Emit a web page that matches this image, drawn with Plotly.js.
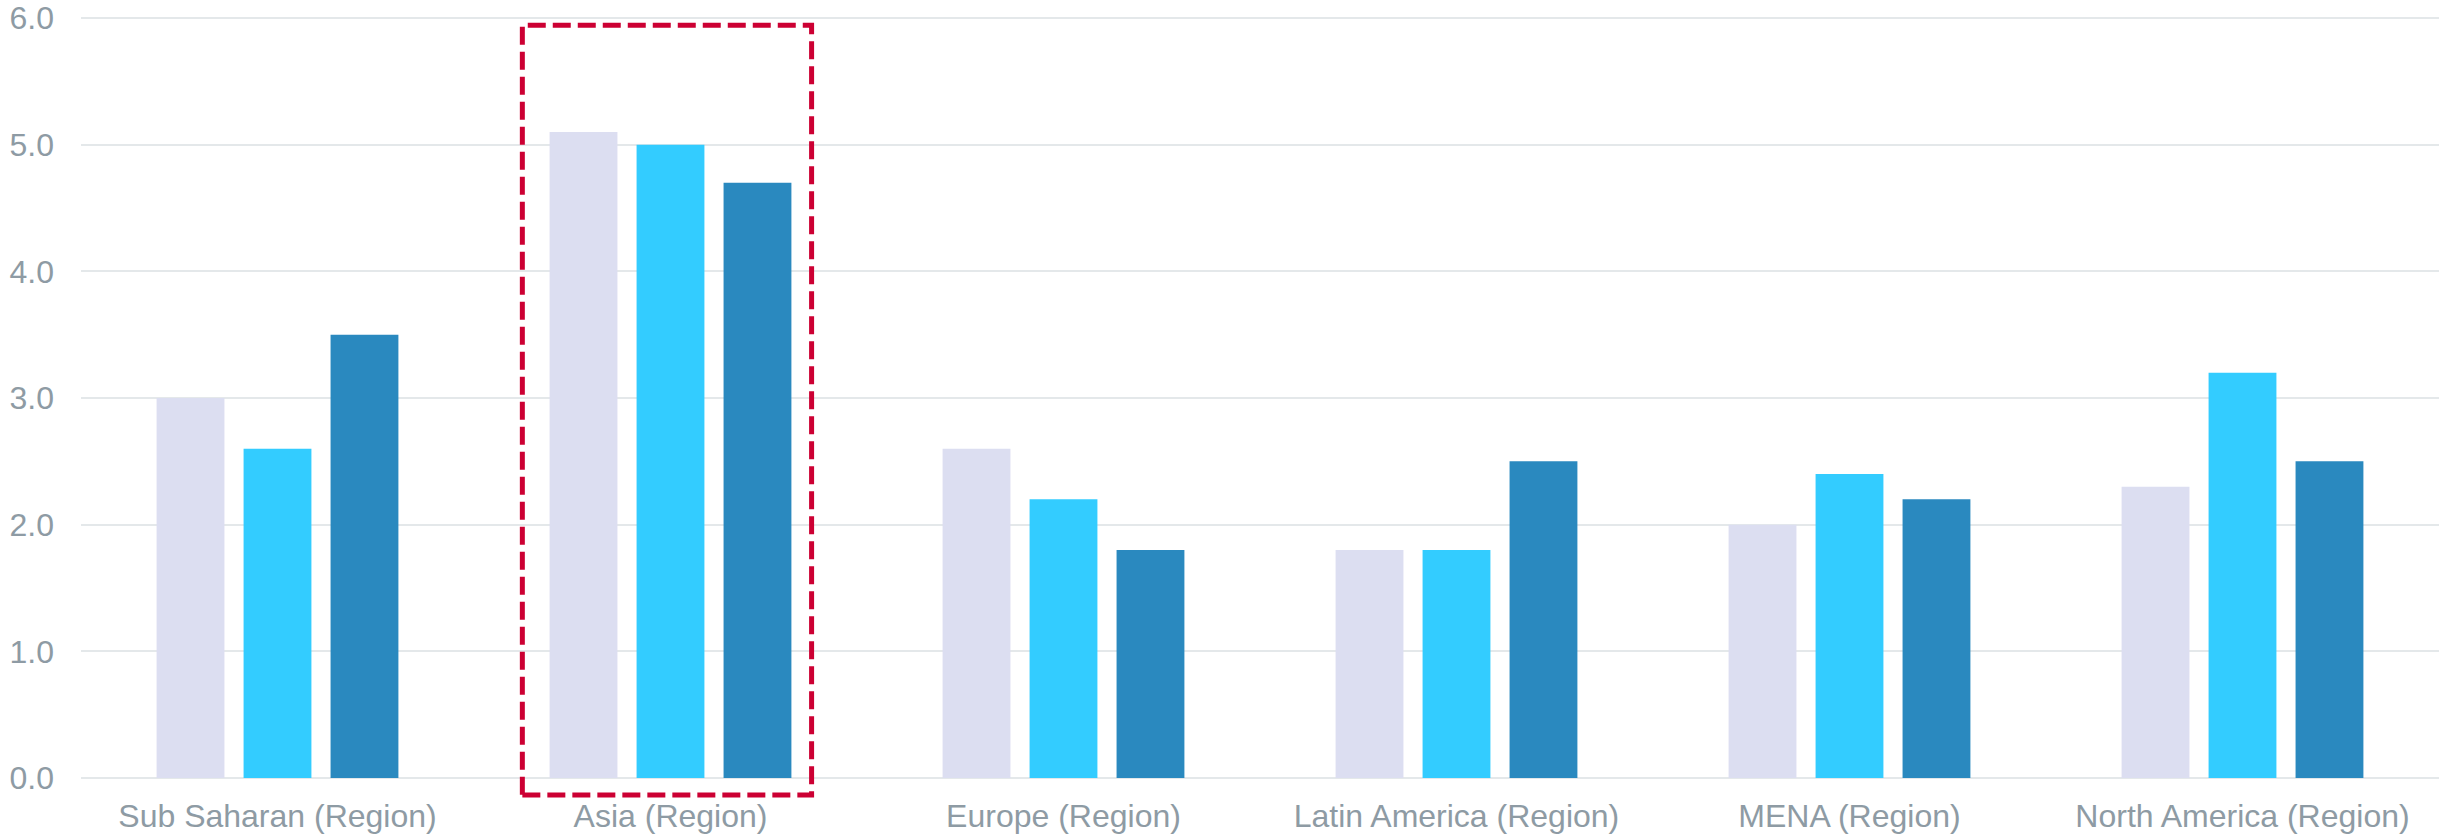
<!DOCTYPE html>
<html>
<head>
<meta charset="utf-8">
<script src="https://cdn.plot.ly/plotly-3.0.1.min.js"></script>
<style>html,body{margin:0;padding:0;background:#fff;}#chart{width:2441px;height:835px;}</style>
</head>
<body>
<div id="chart"></div>
<script>
const categories = ["Sub Saharan (Region)", "Asia (Region)", "Europe (Region)", "Latin America (Region)", "MENA (Region)", "North America (Region)"];
const series1 = [3.0, 5.1, 2.6, 1.8, 2.0, 2.3];
const series2 = [2.6, 5.0, 2.2, 1.8, 2.4, 3.2];
const series3 = [3.5, 4.7, 1.8, 2.5, 2.2, 2.5];
const yTickVals = [0, 1, 2, 3, 4, 5, 6];
const yTickText = ["0.0", "1.0", "2.0", "3.0", "4.0", "5.0", "6.0"];
const highlightCategory = "Asia (Region)";

const colors = ["#dcdef1", "#33ccff", "#2a89bf"];
const allSeries = [series1, series2, series3];
const traces = allSeries.map((vals, i) => ({
  type: "bar",
  x: categories,
  y: vals,
  marker: {color: colors[i], line: {width: 0}},
  hoverinfo: "skip",
  showlegend: false
}));

const hi = categories.indexOf(highlightCategory);

const layout = {
  width: 2441,
  height: 835,
  margin: {l: 81, r: 2, t: 16, b: 57},
  paper_bgcolor: "#ffffff",
  plot_bgcolor: "#ffffff",
  barmode: "group",
  bargap: 0.336,
  bargroupgap: 0.22,
  font: {family: "Liberation Sans, Arial, sans-serif", size: 32, color: "#8e9ba4"},
  xaxis: {
    type: "category",
    showgrid: false,
    zeroline: false,
    showline: false,
    ticks: "",
    tickfont: {size: 32, color: "#8e9ba4"},
    ticklabelstandoff: 16
  },
  yaxis: {
    range: [0, 6.016],
    tickvals: yTickVals,
    ticktext: yTickText,
    showgrid: true,
    gridcolor: "#e4e8ea",
    gridwidth: 2,
    zeroline: true,
    zerolinecolor: "#e4e8ea",
    zerolinewidth: 2,
    showline: false,
    ticks: "",
    tickfont: {size: 32, color: "#8e9ba4"},
    ticklabelstandoff: 26
  },
  shapes: [{
    type: "rect",
    xref: "x",
    yref: "paper",
    x0: hi - 0.377,
    x1: hi + 0.359,
    y0: -0.0224,
    y1: 0.988,
    line: {color: "#cc0033", width: 5, dash: "18px,7px"},
    fillcolor: "rgba(0,0,0,0)",
    layer: "above"
  }]
};

Plotly.newPlot("chart", traces, layout, {displayModeBar: false, staticPlot: true});
</script>
</body>
</html>
